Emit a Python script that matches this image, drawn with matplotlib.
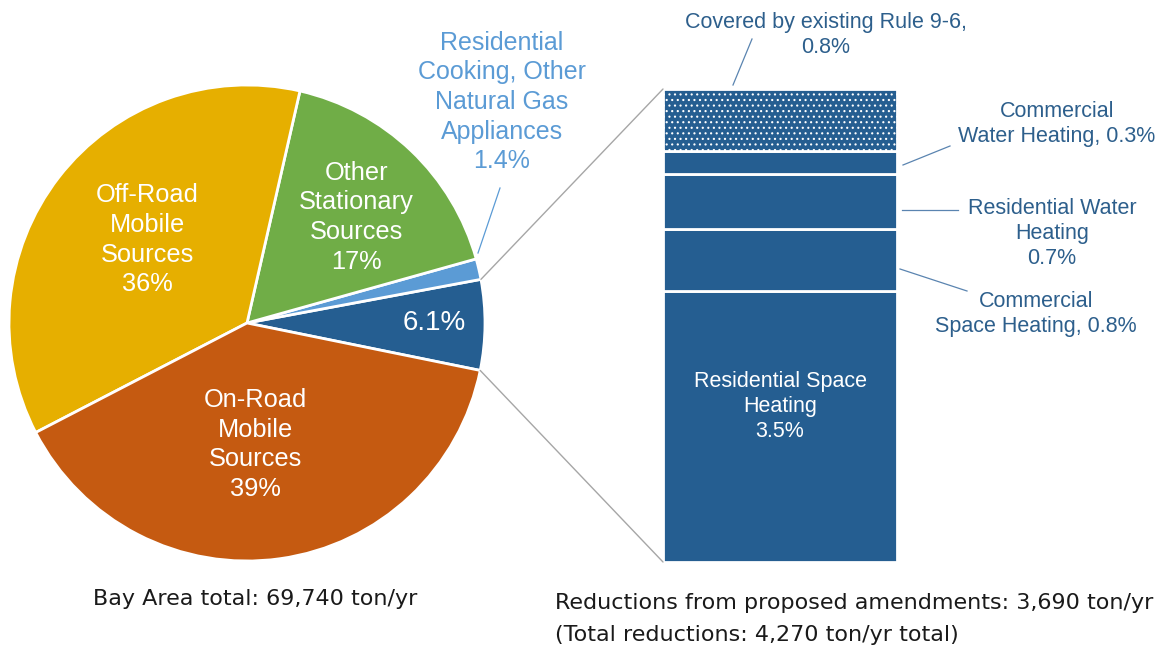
import numpy as np
import matplotlib
matplotlib.use("Agg")
import matplotlib.pyplot as plt
from matplotlib.patches import ConnectionPatch

# ---- data ----
pie_labels = ["6.1%", "", "Other\nStationary\nSources\n17%", "Off-Road\nMobile\nSources\n36%",
              "On-Road\nMobile\nSources\n39%"]
pie_values = [6.1, 1.4, 17, 36, 39]
pie_colors = ["#255E91", "#5B9BD5", "#70AD47", "#E6AF00", "#C55A11"]

bar_labels = ["Residential Space\nHeating\n3.5%", "Commercial\nSpace Heating, 0.8%",
              "Residential Water\nHeating\n0.7%", "Commercial\nWater Heating, 0.3%",
              "Covered by existing Rule 9-6,\n0.8%"]
bar_values = [3.5, 0.8, 0.7, 0.3, 0.8]

cooking_label = "Residential\nCooking, Other\nNatural Gas\nAppliances\n1.4%"
pie_note = "Bay Area total: 69,740 ton/yr"
bar_note = "Reductions from proposed amendments: 3,690 ton/yr\n(Total reductions: 4,270 ton/yr total)"

W, H = 1164, 651
BLUE_TXT = "#2D5F8C"
SANS = "Liberation Sans"
plt.rcParams["hatch.linewidth"] = 0.8
plt.rcParams["hatch.color"] = "white"

fig = plt.figure(figsize=(W / 100, H / 100), dpi=100)


def fx(px):
    return px / W


def fy(py):
    return 1 - py / H


# ---- pie ----
ax_pie = fig.add_axes([fx(9), fy(561), 476 / W, 476 / H])
start = -11.5
wedges, _ = ax_pie.pie(pie_values, colors=pie_colors, startangle=start, counterclock=True,
                       wedgeprops=dict(edgecolor="white", linewidth=2))
ax_pie.set_xlim(-1, 1)
ax_pie.set_ylim(-1, 1)
ax_pie.set_aspect("equal")
ax_pie.axis("off")

label_pos = [(0.785, 0.0), None, (0.46, 0.445), (-0.42, 0.35), (0.035, -0.51)]
label_size = [20, 0, 18.3, 18.3, 18.3]
for lab, pos, fs in zip(pie_labels, label_pos, label_size):
    if pos is None:
        continue
    ax_pie.text(pos[0], pos[1], lab, color="white", fontsize=fs, family=SANS,
                ha="center", va="center", linespacing=1.3)

fig.text(fx(502), fy(102), cooking_label, color="#5B9BD5", fontsize=18, family=SANS,
         ha="center", va="center", linespacing=1.3)
fig.add_artist(plt.Line2D([fx(500), fx(478)], [fy(188), fy(253)], color="#5B9BD5", lw=0.9))

# ---- stacked bar ----
ax_bar = fig.add_axes([fx(663), fy(562), 234 / W, 473 / H])
bottom = 0
for i, v in enumerate(bar_values):
    hatch = "..." if i == len(bar_values) - 1 else None
    ax_bar.bar(0.5, v, width=1.0, bottom=bottom, color="#255E91", edgecolor="white",
               linewidth=2, hatch=hatch)
    bottom += v
ax_bar.set_xlim(0, 1)
ax_bar.set_ylim(0, sum(bar_values))
ax_bar.axis("off")

ax_bar.text(0.5, 2.0, bar_labels[0], color="white", fontsize=15.5, family=SANS,
            ha="center", va="center", linespacing=1.25)

side = [
    (bar_labels[1], (1036, 314), [(900, 269), (967, 291)]),
    (bar_labels[2], (1052, 233), [(902, 210), (958, 210)]),
    (bar_labels[3], (1057, 124), [(903, 165), (950, 146)]),
    (bar_labels[4], (826, 35), [(733, 85), (752, 39)]),
]
for lab, (tx, ty), line in side:
    fig.text(fx(tx), fy(ty), lab, color=BLUE_TXT, fontsize=15.5, family=SANS,
             ha="center", va="center", linespacing=1.25)
    fig.add_artist(plt.Line2D([fx(line[0][0]), fx(line[1][0])],
                              [fy(line[0][1]), fy(line[1][1])], color="#5A84B0", lw=0.9))

# ---- connectors from the 6.1% wedge to the bar ----
total = sum(pie_values)
a0 = np.deg2rad(start)
a1 = np.deg2rad(start + pie_values[0] / total * 360)
for ang, ybar in [(a1, sum(bar_values)), (a0, 0)]:
    con = ConnectionPatch(xyA=(np.cos(ang), np.sin(ang)), coordsA=ax_pie.transData,
                          xyB=(0, ybar), coordsB=ax_bar.transData,
                          color="#A6A6A6", lw=1.0)
    fig.add_artist(con)

# ---- notes ----
fig.text(fx(93), fy(599), pie_note, fontsize=16, color="#1A1A1A",
         ha="left", va="center")
fig.text(fx(555), fy(619), bar_note, fontsize=16, color="#1A1A1A",
         ha="left", va="center", linespacing=1.8)

fig.savefig("out.png", dpi=100)
